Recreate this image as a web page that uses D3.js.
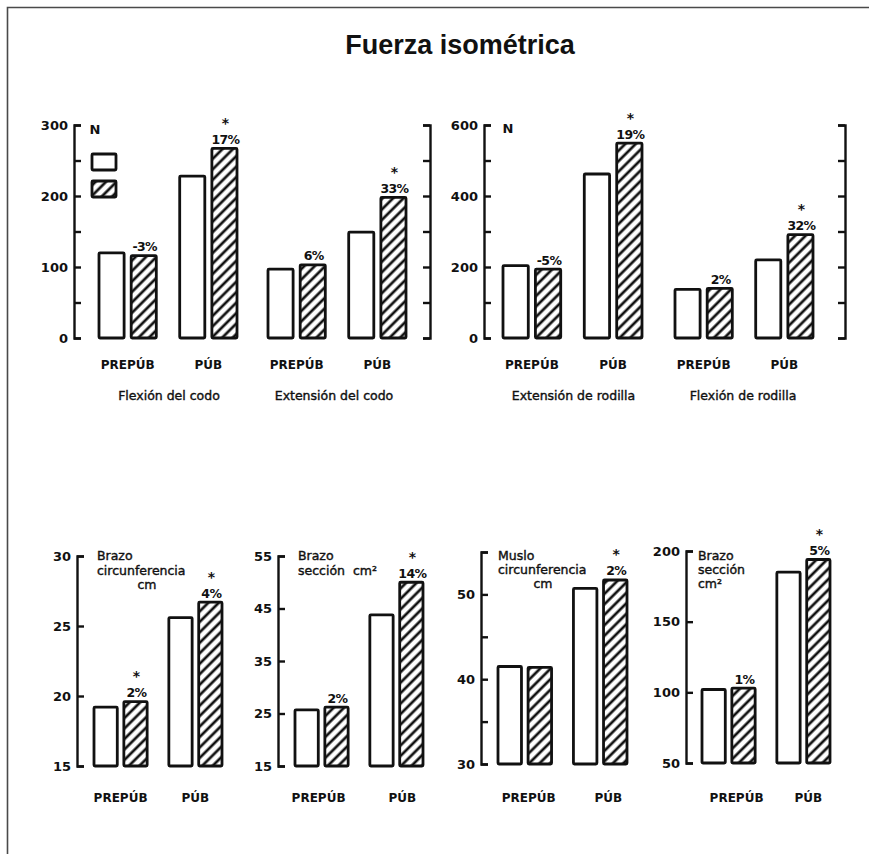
<!DOCTYPE html>
<html>
<head>
<meta charset="utf-8">
<script src="https://cdn.jsdelivr.net/npm/d3@7"></script>
<style>
  html, body { margin: 0; padding: 0; background: #fff; }
  svg { display: block; }
  .tick text { font-family: "DejaVu Sans", sans-serif; font-weight: bold; font-size: 13px; fill: #111; }
</style>
</head>
<body>
<script>
// Stages and the two groups shown in each pair (open = control, hatched = entrenado)
const stages = ["PREPÚB", "PÚB"];
const series = ["control", "entrenado"];

// Isometric strength, N: [PREPÚB control, PREPÚB entrenado, PÚB control, PÚB entrenado]
const flexionCodo = [120, 116, 228, 267];
const extensionCodo = [97, 103, 149, 198];
const extensionRodilla = [204, 194, 462, 549];
const flexionRodilla = [137, 140, 220, 291];

// Change of the trained group, per stage, and whether it was significant
const flexionCodoCambio = ["-3%", "17%"];
const extensionCodoCambio = ["6%", "33%"];
const extensionRodillaCambio = ["-5%", "19%"];
const flexionRodillaCambio = ["2%", "32%"];
const flexionCodoSig = [false, true];
const extensionCodoSig = [false, true];
const extensionRodillaSig = [false, true];
const flexionRodillaSig = [false, true];

// Anthropometry
const brazoCircunferencia = [19.2, 19.6, 25.6, 26.7];   // cm
const brazoSeccion = [25.7, 26.2, 43.8, 50.0];          // cm²
const musloCircunferencia = [41.5, 41.4, 50.7, 51.7];   // cm
const brazoSeccion2 = [102, 103, 185, 194];             // cm²
const brazoCircunferenciaCambio = ["2%", "4%"];
const brazoSeccionCambio = ["2%", "14%"];
const musloCircunferenciaCambio = ["", "2%"];
const brazoSeccion2Cambio = ["1%", "5%"];
const brazoCircunferenciaSig = [true, true];
const brazoSeccionSig = [false, true];
const musloCircunferenciaSig = [false, true];
const brazoSeccion2Sig = [false, true];

// Axis ticks and the subset that carries a label
const ticksBrazo = [0, 50, 100, 150, 200, 250, 300];
const labelsBrazo = [0, 100, 200, 300];
const ticksPierna = [0, 100, 200, 300, 400, 500, 600];
const labelsPierna = [0, 200, 400, 600];
const ticksCircBrazo = [15, 20, 25, 30];
const ticksSeccBrazo = [15, 25, 35, 45, 55];
const ticksCircMuslo = [30, 35, 40, 45, 50, 55];
const labelsCircMuslo = [30, 40, 50];
const ticksSeccBrazo2 = [50, 100, 150, 200];

const W = 869, H = 854;
const svg = d3.select("body").append("svg").attr("width", W).attr("height", H);

// Diagonal hatching for the trained group
const defs = svg.append("defs");
defs.append("pattern")
  .attr("id", "hatch")
  .attr("patternUnits", "userSpaceOnUse")
  .attr("width", 7.4).attr("height", 7.4)
  .attr("patternTransform", "rotate(45)")
  .append("line")
  .attr("x1", 3.7).attr("y1", -1).attr("x2", 3.7).attr("y2", 9)
  .attr("stroke", "#111").attr("stroke-width", 2.7);

// Frame
svg.append("path")
  .attr("d", `M7.5,${H} V7.5 H${W}`)
  .attr("fill", "none").attr("stroke", "#4a4a4a").attr("stroke-width", 1.6);

svg.append("text")
  .attr("x", 460).attr("y", 54)
  .attr("text-anchor", "middle")
  .style("font-family", "'Liberation Sans', Arial, sans-serif")
  .style("font-weight", "bold").style("font-size", "27px")
  .attr("fill", "#111")
  .text("Fuerza isométrica");

function drawAxis(x, y, ticks, labels, side) {
  const axis = (side === "left" ? d3.axisLeft(y) : d3.axisRight(y))
    .tickValues(ticks)
    .tickSizeInner(-7).tickSizeOuter(-7).tickPadding(6)
    .tickFormat(d => (labels && labels.includes(d)) ? d : "");
  const g = svg.append("g").attr("transform", `translate(${x},0)`).call(axis);
  g.selectAll("path, line").attr("stroke", "#111").attr("stroke-width", 2.4);
  return g;
}

// shift: small horizontal offsets of the two stage labels
function drawMeasure(values, changes, sig, x0, x1, y, stageY, shift) {
  const sh = shift || [0, 0];
  const xs = d3.scaleBand().domain(stages).range([x0, x1]).paddingInner(0.29);
  const xi = d3.scaleBand().domain(series).range([0, xs.bandwidth()]).paddingInner(0.22);
  const base = y.range()[0];
  const rows = values.map((v, i) => ({ stage: stages[Math.floor(i / 2)], s: series[i % 2], v }));
  const g = svg.append("g");
  g.selectAll("rect").data(rows).join("rect")
    .attr("x", d => xs(d.stage) + xi(d.s))
    .attr("y", d => y(d.v))
    .attr("width", xi.bandwidth())
    .attr("height", d => base - y(d.v))
    .attr("fill", d => d.s === "control" ? "#fff" : "url(#hatch)")
    .attr("stroke", "#111").attr("stroke-width", 2.8)
    .attr("rx", 1);

  stages.forEach((st, k) => {
    const cx = xs(st) + xi("entrenado") + xi.bandwidth() / 2;
    const top = y(values[k * 2 + 1]);
    if (sig[k]) {
      g.append("text").attr("x", cx + 1).attr("y", top - 20.5)
        .attr("text-anchor", "middle")
        .style("font-family", "'DejaVu Sans', sans-serif")
        .style("font-weight", "bold").style("font-size", "14px")
        .attr("fill", "#111").text("*");
    }
    if (changes[k]) {
      g.append("text").attr("x", cx + 1).attr("y", top - 4.5)
        .attr("text-anchor", "middle")
        .style("font-family", "'DejaVu Sans', sans-serif")
        .style("font-weight", "bold").style("font-size", "12.5px")
        .style("letter-spacing", "-0.6px")
        .attr("fill", "#111").text(changes[k]);
    }
    g.append("text").attr("x", xs(st) + xs.bandwidth() / 2 + sh[k]).attr("y", stageY)
      .attr("text-anchor", "middle")
      .style("font-family", "'DejaVu Sans', sans-serif")
      .style("font-weight", "bold").style("font-size", "12px")
      .attr("fill", "#111").text(st);
  });
  return (x0 + x1) / 2;
}

function caption(x, y, txt, anchor) {
  svg.append("text").attr("x", x).attr("y", y)
    .attr("text-anchor", anchor || "start")
    .style("font-family", "'DejaVu Sans', sans-serif")
    .style("font-size", "12.5px")
    .style("white-space", "pre")
    .attr("fill", "#111").attr("stroke", "#111").attr("stroke-width", 0.4)
    .text(txt);
}

// ---- Upper row: arm strength ----
const yBrazo = d3.scaleLinear().domain([0, 300]).range([338, 125]);
drawAxis(74, yBrazo, ticksBrazo, labelsBrazo, "left");
drawAxis(430, yBrazo, ticksBrazo, null, "right");
svg.append("text").attr("x", 95).attr("y", 134).attr("text-anchor", "middle")
  .style("font-family", "'DejaVu Sans', sans-serif").style("font-weight", "bold")
  .style("font-size", "13px").attr("fill", "#111").text("N");
// legend swatches
svg.append("rect").attr("x", 92).attr("y", 154).attr("width", 24).attr("height", 16)
  .attr("fill", "#fff").attr("stroke", "#111").attr("stroke-width", 2.8).attr("rx", 1);
svg.append("rect").attr("x", 92).attr("y", 181).attr("width", 24).attr("height", 16)
  .attr("fill", "url(#hatch)").attr("stroke", "#111").attr("stroke-width", 2.8).attr("rx", 1);

let c = drawMeasure(flexionCodo, flexionCodoCambio, flexionCodoSig, 99, 237, yBrazo, 369);
caption(c + 1, 400, "Flexión del codo", "middle");
c = drawMeasure(extensionCodo, extensionCodoCambio, extensionCodoSig, 268, 406, yBrazo, 369);
caption(c - 3, 400, "Extensión del codo", "middle");

// ---- Upper row: leg strength ----
const yPierna = d3.scaleLinear().domain([0, 600]).range([338, 125]);
drawAxis(484, yPierna, ticksPierna, labelsPierna, "left");
drawAxis(845, yPierna, ticksPierna, null, "right");
svg.append("text").attr("x", 508).attr("y", 133).attr("text-anchor", "middle")
  .style("font-family", "'DejaVu Sans', sans-serif").style("font-weight", "bold")
  .style("font-size", "13px").attr("fill", "#111").text("N");

c = drawMeasure(extensionRodilla, extensionRodillaCambio, extensionRodillaSig, 503, 642, yPierna, 369);
caption(c + 1, 400, "Extensión de rodilla", "middle");
c = drawMeasure(flexionRodilla, flexionRodillaCambio, flexionRodillaSig, 675, 813, yPierna, 369);
caption(c - 1, 400, "Flexión de rodilla", "middle");

// ---- Lower row: anthropometry ----
const yA = d3.scaleLinear().domain([15, 30]).range([766, 556]);
drawAxis(77, yA, ticksCircBrazo, ticksCircBrazo, "left");
drawMeasure(brazoCircunferencia, brazoCircunferenciaCambio, brazoCircunferenciaSig, 94, 222, yA, 802);
caption(97, 560, "Brazo");
caption(97, 575, "circunferencia");
caption(147, 589, "cm", "middle");

const yB = d3.scaleLinear().domain([15, 55]).range([766, 556]);
drawAxis(278, yB, ticksSeccBrazo, ticksSeccBrazo, "left");
drawMeasure(brazoSeccion, brazoSeccionCambio, brazoSeccionSig, 295, 423, yB, 802, [-3, 6]);
caption(298, 560, "Brazo");
caption(298, 575, "sección  cm²");

const yC = d3.scaleLinear().domain([30, 55]).range([764, 552]);
drawAxis(481, yC, ticksCircMuslo, labelsCircMuslo, "left");
drawMeasure(musloCircunferencia, musloCircunferenciaCambio, musloCircunferenciaSig, 498, 627, yC, 802, [4, 8]);
caption(498, 560, "Muslo");
caption(498, 574, "circunferencia");
caption(543, 588, "cm", "middle");

const yD = d3.scaleLinear().domain([50, 200]).range([763, 551]);
drawAxis(686, yD, ticksSeccBrazo2, ticksSeccBrazo2, "left");
drawMeasure(brazoSeccion2, brazoSeccion2Cambio, brazoSeccion2Sig, 702, 830, yD, 802, [8, 5]);
caption(698, 560, "Brazo");
caption(698, 574, "sección");
caption(698, 588, "cm²");
</script>
</body>
</html>
